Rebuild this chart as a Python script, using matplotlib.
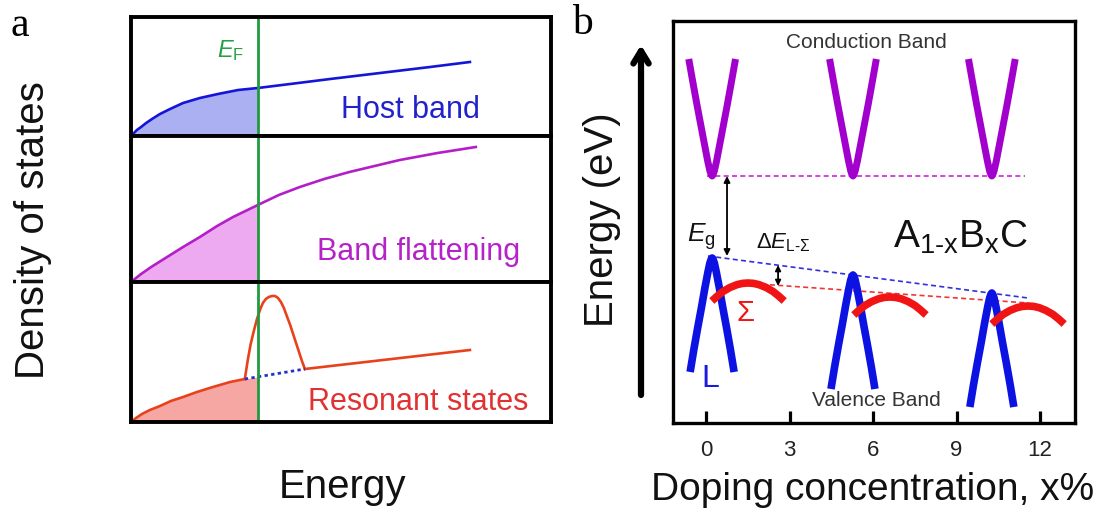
import matplotlib
matplotlib.use("Agg")
import matplotlib.pyplot as plt

plt.rcParams['font.family'] = ['Liberation Sans', 'DejaVu Sans']
plt.rcParams['mathtext.fontset'] = 'custom'
plt.rcParams['mathtext.rm'] = 'Liberation Sans'
plt.rcParams['mathtext.it'] = 'Liberation Sans:italic'
plt.rcParams['mathtext.bf'] = 'Liberation Sans:bold'

# ---------------- Panel a data (energy 0..1, DOS in arbitrary units) -------------
host_E = [0.0, 0.007, 0.014, 0.024, 0.036, 0.050, 0.069, 0.093, 0.124, 0.164, 0.207,
          0.255, 0.302, 0.379, 0.474, 0.593, 0.712, 0.807]
host_dos = [0, 3, 6, 9, 13, 17, 22, 27, 33, 38, 42, 46, 48, 52, 57, 63, 69, 74]

flat_E = [0.0, 0.024, 0.048, 0.086, 0.124, 0.164, 0.205, 0.243, 0.302, 0.352, 0.402,
          0.460, 0.520, 0.580, 0.640, 0.730, 0.821]
flat_dos = [0, 8, 15, 25, 35, 45, 56, 65, 77, 87, 95, 103, 110, 116, 122, 129, 135]

res_base_E = [0.0, 0.012, 0.026, 0.045, 0.069, 0.095, 0.124, 0.157, 0.195, 0.236, 0.271]
res_base_dos = [0, 4, 8, 12, 16, 21, 25, 30, 35, 40, 43]
res_peak_E = [0.271, 0.278, 0.285, 0.293, 0.300, 0.307, 0.314, 0.321, 0.328, 0.336,
              0.343, 0.350, 0.357, 0.364, 0.371, 0.379, 0.386, 0.393, 0.400, 0.407, 0.414]
res_peak_dos = [43, 62, 78, 92, 103, 112, 119, 123, 125, 126, 126, 124, 120, 114, 106,
                97, 88, 79, 70, 61, 53]
res_tail_E = [0.414, 0.807]
res_tail_dos = [53, 72]
res_host_E = [0.271, 0.414]      # dotted host band under the resonant level
res_host_dos = [43, 53]
fermi_E = 0.302

panel_labels = ["Host band", "Band flattening", "Resonant states"]

# ---------------- Panel b data (doping %, energy in arbitrary units) -------------
xticks = [0, 3, 6, 9, 12]
band_x = [0.22, 5.28, 10.27]          # positions of L / CB extrema
cbm = 247                              # conduction band minimum (constant)
vbm_L = [165, 148, 130]                # L valence band maxima
sigma_x = [1.51, 6.61, 11.57]          # Sigma band maxima positions
sigma_top = [140, 126, 117]            # Sigma band maxima
cb_dx = [-0.84, -0.70, -0.55, -0.40, -0.27, -0.16, -0.08, -0.03, 0.0,
         0.03, 0.08, 0.16, 0.27, 0.40, 0.55, 0.70, 0.84]
cb_dy = [117, 95, 72, 50, 31, 15, 5, 1, 0, 1, 5, 15, 31, 50, 72, 95, 117]
vb_dx = [-0.79, -0.66, -0.52, -0.38, -0.26, -0.15, -0.08, -0.03, 0.0,
         0.03, 0.08, 0.15, 0.26, 0.38, 0.52, 0.66, 0.79]
vb_dy = [114, 92, 70, 49, 30, 14, 5, 1, 0, 1, 5, 14, 30, 49, 70, 92, 114]
sig_dx = [-1.3, -1.1, -0.9, -0.65, -0.4, -0.2, 0.0, 0.2, 0.4, 0.65, 0.9, 1.1, 1.3]
sig_dy = [18, 13, 8.5, 4.5, 1.7, 0.4, 0, 0.4, 1.7, 4.5, 8.5, 13, 18]
cb_line_x = [0.04, 11.46]
vbL_line_x = [0.07, 11.57]
vbL_line_y = [167, 125]
sig_line_x = [1.40, 11.57]
sig_line_y = [140, 120]

W, H = 1103, 513
fig = plt.figure(figsize=(W / 100, H / 100), dpi=100)


def fx(px):
    return px / W


def fy(py):
    return 1 - py / H


# ---------------- Panel a ----------------
left_px, right_px = 131, 551
rows = [(17, 136), (136, 282), (282, 422)]
line_cols = ['#1515d8', '#b41ec8', '#e8421c']
fill_cols = ['#aab0f2', '#eeaaf0', '#f7a7a3']
text_cols = ['#2222cc', '#b422c8', '#e03232']
text_pos = [(0.665, 0.22), (0.685, 0.205), (0.683, 0.14)]
axes_a = []
for i, (t, b) in enumerate(rows):
    ax = fig.add_axes([fx(left_px), fy(b), fx(right_px - left_px), (b - t) / H])
    ax.set_xlim(0, 1)
    ax.set_ylim(0, b - t)
    ax.set_xticks([])
    ax.set_yticks([])
    for s in ax.spines.values():
        s.set_linewidth(2.8)
        s.set_color('black')
        s.set_zorder(5)
    axes_a.append(ax)

# host band
ax = axes_a[0]
ax.plot(host_E, host_dos, color=line_cols[0], lw=1.9, zorder=3, solid_joinstyle='round')
n = host_E.index(fermi_E) + 1
ax.fill_between(host_E[:n], host_dos[:n], 0, color=fill_cols[0], lw=0, zorder=1)

# band flattening
ax = axes_a[1]
ax.plot(flat_E, flat_dos, color=line_cols[1], lw=1.9, zorder=3, solid_joinstyle='round')
n = flat_E.index(fermi_E) + 1
ax.fill_between(flat_E[:n], flat_dos[:n], 0, color=fill_cols[1], lw=0, zorder=1)

# resonant states
ax = axes_a[2]
fill_E = res_base_E + [fermi_E]
fill_D = res_base_dos + [res_host_dos[0] + (res_host_dos[1] - res_host_dos[0]) *
                         (fermi_E - res_host_E[0]) / (res_host_E[1] - res_host_E[0])]
ax.fill_between(fill_E, fill_D, 0, color=fill_cols[2], lw=0, zorder=1)
ax.plot(res_base_E, res_base_dos, color=line_cols[2], lw=1.9, zorder=3, solid_joinstyle='round')
ax.plot(res_peak_E, res_peak_dos, color=line_cols[2], lw=1.9, zorder=3, solid_joinstyle='round')
ax.plot(res_tail_E, res_tail_dos, color=line_cols[2], lw=1.9, zorder=3)
ax.plot(res_host_E, res_host_dos, color='#2233cc', lw=2.0, ls=(0, (1.2, 1.2)), zorder=3)

for i, ax in enumerate(axes_a):
    ax.axvline(fermi_E, color='#1f9a3c', lw=2.0, zorder=4)
    ax.text(text_pos[i][0], text_pos[i][1], panel_labels[i], transform=ax.transAxes,
            color=text_cols[i], fontsize=22, ha='center', va='center')

axes_a[0].text(fermi_E - 0.065, 0.72, r'$E_{\mathrm{F}}$', transform=axes_a[0].transAxes,
               color='#22a044', fontsize=17, ha='center', va='center')

fig.text(fx(33), fy(230), 'Density of states', rotation=90, fontsize=29,
         ha='center', va='center', color='#111111')
fig.text(fx(342), fy(487), 'Energy', fontsize=29, ha='center', va='center', color='#111111')
fig.text(fx(20), fy(26), 'a', fontsize=30, family='Liberation Serif', ha='center', va='center')

# ---------------- Panel b ----------------
bl, br, bt, bb = 673, 1075, 21, 423
axb = fig.add_axes([fx(bl), fy(bb), fx(br - bl), (bb - bt) / H])
px_per_unit = (1040 - 706) / 12
axb.set_xlim((bl - 706) / px_per_unit, (br - 706) / px_per_unit)
axb.set_ylim(0, bb - bt)
axb.set_xticks(xticks)
axb.set_xticklabels([str(v) for v in xticks])
axb.set_yticks([])
axb.tick_params(axis='x', direction='in', length=9, width=2.3, pad=12,
                labelsize=16, labelcolor='#222222')
for s in axb.spines.values():
    s.set_linewidth(2.4)

for x0 in band_x:
    axb.plot([x0 + d for d in cb_dx], [cbm + d for d in cb_dy], color='#a200cc',
             lw=5, solid_capstyle='butt', solid_joinstyle='round', zorder=3)
for x0, y0 in zip(band_x, vbm_L):
    axb.plot([x0 + d for d in vb_dx], [y0 - d for d in vb_dy], color='#0c12e2',
             lw=5.5, solid_capstyle='butt', solid_joinstyle='round', zorder=3)
for x0, y0 in zip(sigma_x, sigma_top):
    axb.plot([x0 + d for d in sig_dx], [y0 - d for d in sig_dy], color='#f01414',
             lw=5.5, solid_capstyle='butt', solid_joinstyle='round', zorder=4)

axb.plot(cb_line_x, [cbm, cbm], color='#d020e0', lw=1.2, ls=(0, (3, 2)), zorder=2)
axb.plot(vbL_line_x, vbL_line_y, color='#3030e0', lw=1.2, ls=(0, (3, 2)), zorder=2)
axb.plot(sig_line_x, sig_line_y, color='#f03535', lw=1.2, ls=(0, (3, 2)), zorder=2)

# Eg arrow
eg_x = 0.755
axb.annotate('', xy=(eg_x, cbm), xytext=(eg_x, 167),
             arrowprops=dict(arrowstyle='<|-|>', lw=1.3, color='black',
                             mutation_scale=9, shrinkA=0, shrinkB=0))
# Delta E arrow
de_x = 2.59
axb.annotate('', xy=(de_x, 158), xytext=(de_x, 137),
             arrowprops=dict(arrowstyle='<|-|>', lw=1.3, color='black',
                             mutation_scale=8, shrinkA=0, shrinkB=0))

axb.text(5.75, 381, 'Conduction Band', fontsize=15, color='#333333', ha='center', va='center')
axb.text(6.11, 23, 'Valence Band', fontsize=15, color='#333333', ha='center', va='center')
axb.text(9.13, 186, r'A$_{\mathrm{1\text{-}x}}$B$_{\mathrm{x}}$C', fontsize=28,
         color='#111111', ha='center', va='center')
axb.text(-0.18, 186, r'$E_{\mathrm{g}}$', fontsize=19, color='#111111', ha='center', va='center')
axb.text(2.77, 180, r'$\Delta E_{\mathrm{L\text{-}\Sigma}}$', fontsize=16, color='#111111',
         ha='center', va='center')
axb.text(0.15, 44, 'L', fontsize=23, color='#1a1ae0', ha='center', va='center')
axb.text(1.40, 110, r'$\Sigma$', fontsize=21, color='#f01414', ha='center', va='center')

# energy arrow
axb.annotate('', xy=(fx(641), fy(45)), xytext=(fx(641), fy(395)), xycoords='figure fraction',
             textcoords='figure fraction',
             arrowprops=dict(arrowstyle='->,head_length=0.9,head_width=0.55', lw=4.5,
                             color='black', shrinkA=0, shrinkB=0))

fig.text(fx(602), fy(220), 'Energy (eV)', rotation=90, fontsize=29,
         ha='center', va='center', color='#111111')
fig.text(fx(873), fy(490), 'Doping concentration, x%', fontsize=28,
         ha='center', va='center', color='#111111')
fig.text(fx(582), fy(24), 'b', fontsize=30, family='Liberation Serif', ha='center', va='center')

fig.savefig('out.png', dpi=100)
